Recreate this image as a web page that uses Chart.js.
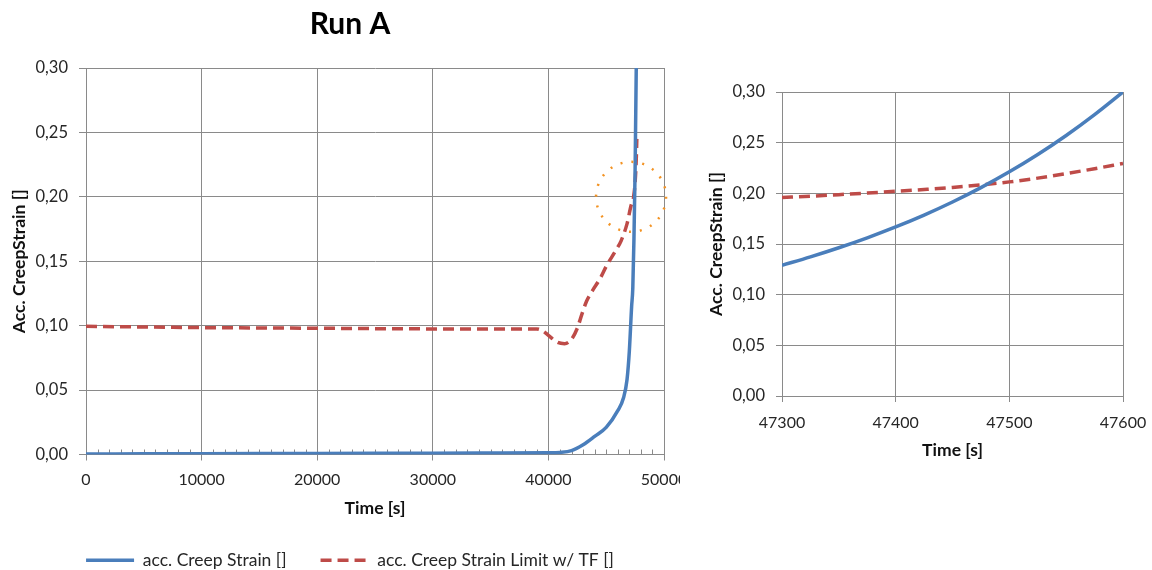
<!DOCTYPE html>
<html>
<head>
<meta charset="utf-8">
<title>Run A</title>
<script src="https://cdn.jsdelivr.net/npm/chart.js@4.4.1/dist/chart.umd.min.js"></script>
<style>
  html, body { margin: 0; padding: 0; background: #fff; overflow: hidden; }
  #fullWrap { position: absolute; left: 0; top: 0; width: 680px; height: 579px; overflow: hidden; }
  #zoomWrap { position: absolute; left: 690px; top: 0; width: 462px; height: 570px; }
</style>
</head>
<body>
<div id="fullWrap"><canvas id="fullChart" width="700" height="579"></canvas></div>
<div id="zoomWrap"><canvas id="zoomChart" width="462" height="570"></canvas></div>

<script>
// ---- data: whole run ----
const strainTime   = [0, 5000, 10000, 15000, 20000, 25000, 30000, 35000, 40000, 41000, 42000, 43000, 44000, 45000, 46000, 46500, 46800, 47000, 47200, 47300, 47400, 47500, 47600, 47700];
const strainValues = [0.0004, 0.0005, 0.0006, 0.0007, 0.0008, 0.0009, 0.0010, 0.0011, 0.0013, 0.0016, 0.0030, 0.0075, 0.014, 0.021, 0.034, 0.044, 0.058, 0.080, 0.115, 0.129, 0.167, 0.221, 0.300, 0.400];

const limitTime   = [0, 10000, 20000, 30000, 39000, 39500, 40000, 40800, 41400, 42000, 42500, 42900, 43300, 43800, 44500, 45000, 45800, 46300, 46800, 47200, 47300, 47400, 47500, 47600, 47650];
const limitValues = [0.0995, 0.0985, 0.0980, 0.0975, 0.0975, 0.0960, 0.0925, 0.0870, 0.0860, 0.0895, 0.0980, 0.109, 0.119, 0.127, 0.137, 0.146, 0.158, 0.166, 0.179, 0.1946, 0.196, 0.202, 0.211, 0.229, 0.245];

// ---- data: zoom on the crossing ----
const zoomTime   = [47300, 47325, 47350, 47375, 47400, 47425, 47450, 47475, 47500, 47525, 47550, 47575, 47600];
const zoomStrain = [0.1290, 0.1373, 0.1463, 0.1561, 0.1668, 0.1785, 0.1914, 0.2056, 0.2212, 0.2383, 0.2571, 0.2777, 0.3000];
const zoomLimit  = [0.1958, 0.1972, 0.1987, 0.2003, 0.2020, 0.2038, 0.2058, 0.2083, 0.2113, 0.2150, 0.2195, 0.2243, 0.2295];

// ---- axis ticks ----
const strainTicks = [0, 0.05, 0.10, 0.15, 0.20, 0.25, 0.30];
const fullTimeTicks = [0, 10000, 20000, 30000, 40000, 50000];
const zoomTimeTicks = [47300, 47400, 47500, 47600];

// marked crossing on the full chart
const highlightTime = 47150;
const highlightStrain = 0.20;

const FONT = 'Lato, "Open Sans", sans-serif';
const GRID = '#8a8a8a';
const TEXT = '#262626';
const BLUE = '#4a7ebb';
const RED = '#be4b48';

function toPoints(xs, ys) {
  return xs.map((x, i) => ({ x: x, y: ys[i] }));
}

function commaLabel(value) {
  return value.toFixed(2).replace('.', ',');
}

function buildScales(cfg) {
  return {
    x: {
      type: 'linear',
      min: cfg.xTicks[0],
      max: cfg.xTicks[cfg.xTicks.length - 1],
      afterBuildTicks: (scale) => { scale.ticks = cfg.xTicks.map(v => ({ value: v })); },
      afterFit: (scale) => {
        scale.height = cfg.xHeight;
        scale.paddingLeft = 0;
        scale.paddingRight = cfg.rightGap;
      },
      grid: { color: GRID, tickColor: GRID, tickLength: 6, lineWidth: 1 },
      border: { color: GRID, width: 1 },
      ticks: {
        color: TEXT,
        font: { family: FONT, size: 16 },
        padding: cfg.xTickPad,
        maxRotation: 0,
        autoSkip: false,
        callback: (value) => String(value)
      },
      title: {
        display: true,
        text: 'Time [s]',
        color: '#111',
        font: { family: FONT, size: 17.5, weight: 'bold' },
        padding: { top: 0, bottom: cfg.xTitlePad }
      }
    },
    y: {
      type: 'linear',
      min: 0,
      max: 0.30,
      afterBuildTicks: (scale) => { scale.ticks = strainTicks.map(v => ({ value: v })); },
      afterFit: (scale) => {
        scale.width = cfg.yWidth;
        scale.paddingTop = 0;
        scale.paddingBottom = 0;
      },
      grid: { color: GRID, tickColor: GRID, tickLength: cfg.yTickLength, lineWidth: 1 },
      border: { color: GRID, width: 1 },
      ticks: {
        color: TEXT,
        font: { family: FONT, size: 16.5 },
        padding: 11,
        autoSkip: false,
        callback: (value) => commaLabel(value)
      },
      title: {
        display: true,
        text: 'Acc. CreepStrain []',
        color: '#111',
        font: { family: FONT, size: 17.5, weight: 'bold' },
        padding: { top: cfg.yTitlePad, bottom: 0 }
      }
    }
  };
}

function strainDataset(points) {
  return {
    label: 'acc. Creep Strain []',
    data: points,
    borderColor: BLUE,
    backgroundColor: BLUE,
    borderWidth: 3.5,
    pointRadius: 0,
    cubicInterpolationMode: 'monotone',
    fill: false
  };
}

function limitDataset(points) {
  return {
    label: 'acc. Creep Strain Limit w/ TF []',
    data: points,
    borderColor: RED,
    backgroundColor: RED,
    borderWidth: 3.5,
    borderDash: [11, 6],
    pointRadius: 0,
    cubicInterpolationMode: 'monotone',
    fill: false
  };
}

// small inward ticks every 1000 s on the full time axis
const minorTickPlugin = {
  id: 'minorTicks',
  beforeDatasetsDraw(chart) {
    const { ctx, chartArea, scales } = chart;
    ctx.save();
    ctx.strokeStyle = GRID;
    ctx.lineWidth = 1;
    for (let t = 1000; t < 50000; t += 1000) {
      if (t % 10000 === 0) continue;
      const px = Math.round(scales.x.getPixelForValue(t)) + 0.5;
      ctx.beginPath();
      ctx.moveTo(px, chartArea.bottom);
      ctx.lineTo(px, chartArea.bottom - 5);
      ctx.stroke();
    }
    ctx.restore();
  }
};

// dotted orange ring around the crossing
const highlightPlugin = {
  id: 'highlightRing',
  afterDatasetsDraw(chart) {
    const { ctx, scales } = chart;
    const cx = scales.x.getPixelForValue(highlightTime);
    const cy = scales.y.getPixelForValue(highlightStrain);
    ctx.save();
    ctx.strokeStyle = '#f39323';
    ctx.lineWidth = 2.5;
    ctx.setLineDash([2, 9]);
    ctx.beginPath();
    ctx.arc(cx, cy, 35, 0, Math.PI * 2);
    ctx.stroke();
    ctx.restore();
  }
};

Chart.defaults.font.family = FONT;

new Chart(document.getElementById('fullChart'), {
  type: 'line',
  data: {
    datasets: [
      strainDataset(toPoints(strainTime, strainValues)),
      limitDataset(toPoints(limitTime, limitValues))
    ]
  },
  options: {
    responsive: false,
    animation: false,
    events: [],
    layout: { padding: 0 },
    scales: buildScales({
      xTicks: fullTimeTicks,
      xHeight: 63,
      rightGap: 36,
      xTickPad: 10,
      xTitlePad: -1.7,
      yWidth: 86,
      yTickLength: 7,
      yTitlePad: 9
    }),
    plugins: {
      title: {
        display: true,
        text: 'Run A',
        color: '#000',
        font: { family: FONT, size: 30, weight: 'bold' },
        padding: { top: 6, bottom: 26 }
      },
      legend: {
        display: true,
        position: 'bottom',
        labels: {
          color: TEXT,
          font: { family: FONT, size: 17.5 },
          padding: 34,
          usePointStyle: true,
          pointStyleWidth: 48,
          generateLabels: (chart) => chart.data.datasets.map((ds, i) => ({
            text: ds.label,
            strokeStyle: ds.borderColor,
            fillStyle: ds.borderColor,
            lineWidth: ds.borderWidth,
            lineDash: ds.borderDash || [],
            pointStyle: 'line',
            fontColor: TEXT,
            hidden: false,
            datasetIndex: i
          }))
        }
      },
      tooltip: { enabled: false }
    }
  },
  plugins: [minorTickPlugin, highlightPlugin]
});

new Chart(document.getElementById('zoomChart'), {
  type: 'line',
  data: {
    datasets: [
      strainDataset(toPoints(zoomTime, zoomStrain)),
      limitDataset(toPoints(zoomTime, zoomLimit))
    ]
  },
  options: {
    responsive: false,
    animation: false,
    events: [],
    layout: { padding: { top: 92, bottom: 94, left: 0, right: 0 } },
    scales: buildScales({
      xTicks: zoomTimeTicks,
      xHeight: 80,
      rightGap: 29,
      xTickPad: 11,
      xTitlePad: 15.3,
      yWidth: 92,
      yTickLength: 6,
      yTitlePad: 16
    }),
    plugins: {
      legend: { display: false },
      title: { display: false },
      tooltip: { enabled: false }
    }
  }
});
</script>
</body>
</html>
